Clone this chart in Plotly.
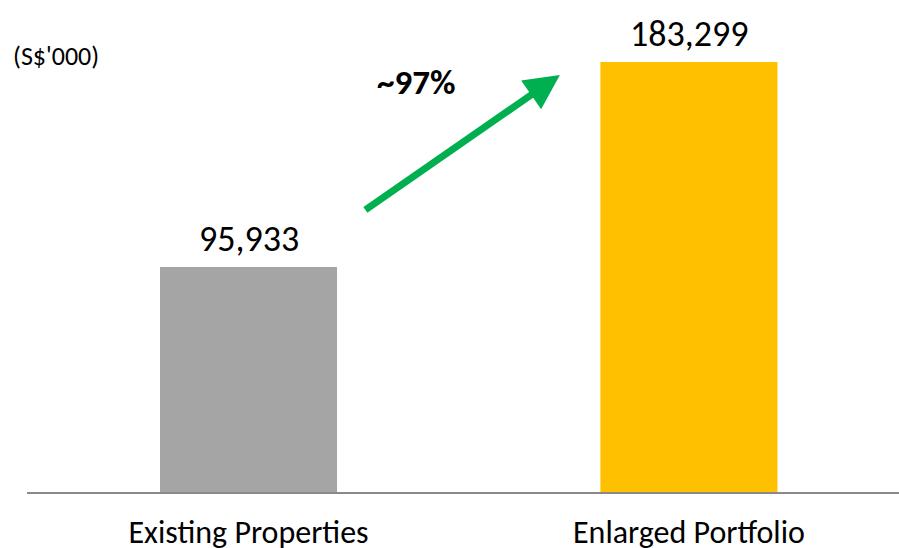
import plotly.graph_objects as go

# Portfolio values (S$'000)
categories = ["Existing Properties", "Enlarged Portfolio"]
values = [95933, 183299]
bar_colors = ["#A5A5A5", "#FFC000"]
growth_label = "~97%"
unit_label = "(S$'000)"

FONT = "Carlito, Calibri, Lato, sans-serif"

# figure geometry (pixels)
W, H = 899, 548
L, R, T, B = 27, 0, 20, 56
pw, ph = W - L - R, H - T - B


def px_to_paper(px, py):
    return (px - L) / pw, (H - B - py) / ph


fig = go.Figure()
fig.add_trace(go.Bar(
    x=categories,
    y=values,
    marker=dict(color=bar_colors, line=dict(width=0)),
    width=0.402,
    hoverinfo="skip",
))

# value labels above each bar
for cat, v in zip(categories, values):
    fig.add_annotation(
        x=cat, y=v, text=f"{v:,}", showarrow=False,
        yanchor="bottom", yshift=4,
        font=dict(family=FONT, size=36, color="#000000"),
    )

# growth arrow between the bars
fig.add_annotation(
    x=0.707, y=177800, xref="x", yref="y",
    ax=-196, ay=136,
    showarrow=True, arrowhead=2, arrowsize=1.0, arrowwidth=7,
    arrowcolor="#00B050", standoff=0, text="",
)
gx, gy = px_to_paper(416, 82)
fig.add_annotation(
    x=gx, y=gy, xref="paper", yref="paper", text=f"<b>{growth_label}</b>",
    xanchor="center", yanchor="middle",
    showarrow=False, font=dict(family=FONT, size=35, color="#000000"),
)
ux, uy = px_to_paper(56, 56)
fig.add_annotation(
    x=ux, y=uy, xref="paper", yref="paper", text=unit_label,
    xanchor="center", yanchor="middle",
    showarrow=False, font=dict(family=FONT, size=26, color="#000000"),
)

fig.update_layout(
    width=W, height=H,
    margin=dict(l=L, r=R, t=T, b=B),
    paper_bgcolor="white", plot_bgcolor="white",
    showlegend=False,
    xaxis=dict(
        range=[-0.503, 1.477], automargin=False,
        showline=True, linecolor="#898989", linewidth=2,
        showgrid=False, zeroline=False,
        ticks="outside", ticklen=11, tickcolor="rgba(0,0,0,0)",
        tickfont=dict(family=FONT, size=32, color="#000000"),
    ),
    yaxis=dict(
        range=[0, 201203], visible=False, showgrid=False, zeroline=False,
        automargin=False,
    ),
)

fig.write_html("out.html")
